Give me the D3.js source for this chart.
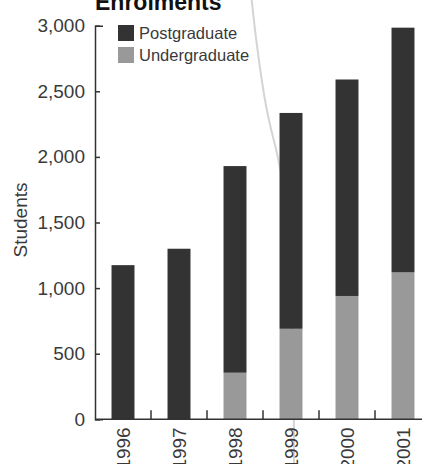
<!DOCTYPE html>
<html>
<head>
<meta charset="utf-8">
<script src="https://cdn.jsdelivr.net/npm/d3@7"></script>
<style>
  html, body { margin: 0; padding: 0; background: #fff; }
  svg { display: block; font-family: "Liberation Sans", Arial, sans-serif; }
</style>
</head>
<body>
<svg id="chart" width="422" height="464"></svg>
<script>
// Student enrolments by year, stacked by level
const years = ["1996", "1997", "1998", "1999", "2000", "2001"];
const undergraduate = [0, 0, 355, 690, 940, 1120];
const postgraduate = [1175, 1300, 1575, 1645, 1650, 1865];
const yTicks = [0, 500, 1000, 1500, 2000, 2500, 3000];
const seriesNames = ["Postgraduate", "Undergraduate"];
const seriesColors = ["#333333", "#999999"];

const svg = d3.select("#chart");

const x = d3.scaleBand()
  .domain(years)
  .range([95, 431])
  .paddingInner(0.59)
  .paddingOuter(0.295);

const y = d3.scaleLinear()
  .domain([0, 3000])
  .range([419.3, 25.7]);

// Light callout line running behind the bars
const calloutPts = [[251.5, -2], [256, 40], [263, 90], [269, 122], [277, 152], [284, 185], [290, 260], [293, 350], [294, 420], [294, 466]];
svg.append("path")
  .attr("d", d3.line().curve(d3.curveBasis)(calloutPts))
  .attr("fill", "none")
  .attr("stroke", "#d4d4d4")
  .attr("stroke-width", 2);

// Stacked bars
const rows = years.map((yr, i) => ({ year: yr, Undergraduate: undergraduate[i], Postgraduate: postgraduate[i] }));
const stack = d3.stack().keys(["Undergraduate", "Postgraduate"]);
const layers = stack(rows);
const colorOf = { Postgraduate: "#333333", Undergraduate: "#999999" };

svg.append("g").selectAll("g")
  .data(layers)
  .join("g")
  .attr("fill", d => colorOf[d.key])
  .selectAll("rect")
  .data(d => d)
  .join("rect")
  .attr("x", d => x(d.data.year))
  .attr("width", x.bandwidth())
  .attr("y", d => y(d[1]))
  .attr("height", d => Math.max(0, y(d[0]) - y(d[1])));

// Y axis
const yAxis = d3.axisLeft(y)
  .tickValues(yTicks)
  .tickFormat(d3.format(","))
  .tickSizeInner(-5)
  .tickSizeOuter(-8)
  .tickPadding(10);

const gy = svg.append("g")
  .attr("transform", "translate(95,0)")
  .call(yAxis);
gy.select(".domain").attr("stroke", "#333").attr("stroke-width", 1.5);
gy.selectAll(".tick line").attr("stroke", "#333").attr("stroke-width", 1.5);
gy.selectAll(".tick text")
  .attr("fill", "#3a3a3a")
  .style("font-size", "19px");

// X axis: ticks sit between the bars, labels run vertically
const gx = svg.append("g");
gx.append("line")
  .attr("x1", x.range()[0]).attr("x2", x.range()[1])
  .attr("y1", y(0)).attr("y2", y(0))
  .attr("stroke", "#333").attr("stroke-width", 1.5);
const gap = (x.step() - x.bandwidth()) / 2;
gx.selectAll("line.sep")
  .data(years.slice(1))
  .join("line")
  .attr("class", "sep")
  .attr("x1", d => x(d) - gap)
  .attr("x2", d => x(d) - gap)
  .attr("y1", y(0))
  .attr("y2", y(0) - 9)
  .attr("stroke", "#333").attr("stroke-width", 1.5);
gx.selectAll("text")
  .data(years)
  .join("text")
  .attr("transform", d => `translate(${x(d) + x.bandwidth() / 2 + 7},${y(0) + 8}) rotate(-90)`)
  .attr("text-anchor", "end")
  .attr("fill", "#3a3a3a")
  .style("font-size", "19px")
  .text(d => d);

// Axis title
svg.append("text")
  .attr("transform", "translate(27,220) rotate(-90)")
  .attr("text-anchor", "middle")
  .attr("fill", "#3a3a3a")
  .style("font-size", "19px")
  .text("Students");

// Chart title
svg.append("text")
  .attr("x", 95)
  .attr("y", 10)
  .attr("fill", "#111")
  .style("font-size", "23px")
  .style("font-weight", "bold")
  .text("Enrolments");

// Legend
const legend = svg.append("g").attr("transform", "translate(118,25)");
const li = legend.selectAll("g")
  .data(seriesNames)
  .join("g")
  .attr("transform", (d, i) => `translate(0,${i * 22})`);
li.append("rect")
  .attr("width", 16).attr("height", 16)
  .attr("fill", (d, i) => seriesColors[i]);
li.append("text")
  .attr("x", 21)
  .attr("y", 14)
  .attr("fill", "#3a3a3a")
  .style("font-size", "16.5px")
  .text(d => d);
</script>
</body>
</html>
